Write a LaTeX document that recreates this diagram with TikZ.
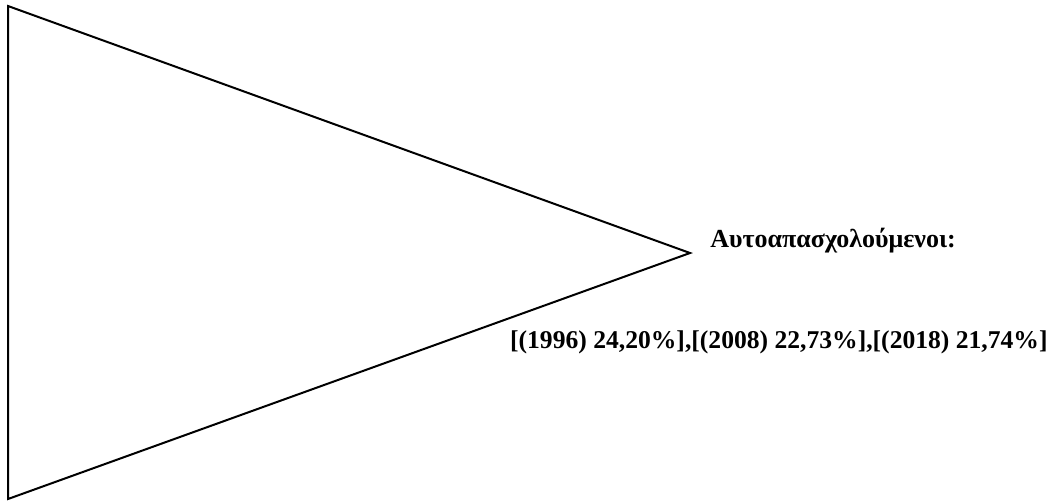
\documentclass[tikz,border=0pt]{standalone}
\usepackage{fontspec}
\setmainfont{Liberation Serif}
\usetikzlibrary{positioning}
\tikzset{
  edgeK/.style={black, line width=1pt, line join=miter},
  labelB/.style={font=\bfseries\fontsize{12.8}{15}\selectfont, inner sep=0pt},
}
\begin{document}
\begin{tikzpicture}[x=0.5pt, y=-0.5pt]
    \useasboundingbox (0,0) rectangle (1061,500);

    % κορυφές τριγώνου
    \coordinate (topL) at (8,6);
    \coordinate (tip) at (690,253);
    \coordinate (botL) at (8,499);
    \draw[edgeK] (topL) -- (tip) -- (botL) -- cycle;

    % ετικέτες
    \node[labelB, font=\bfseries\fontsize{13}{15}\selectfont, anchor=base west]
      (selfemp) at (710,247) {Αυτοαπασχολούμενοι:};
    \node[labelB, anchor=base east] (rates) at (1048,348)
      {[(1996) 24,20\%],[(2008) 22,73\%],[(2018) 21,74\%]};
\end{tikzpicture}
\end{document}
